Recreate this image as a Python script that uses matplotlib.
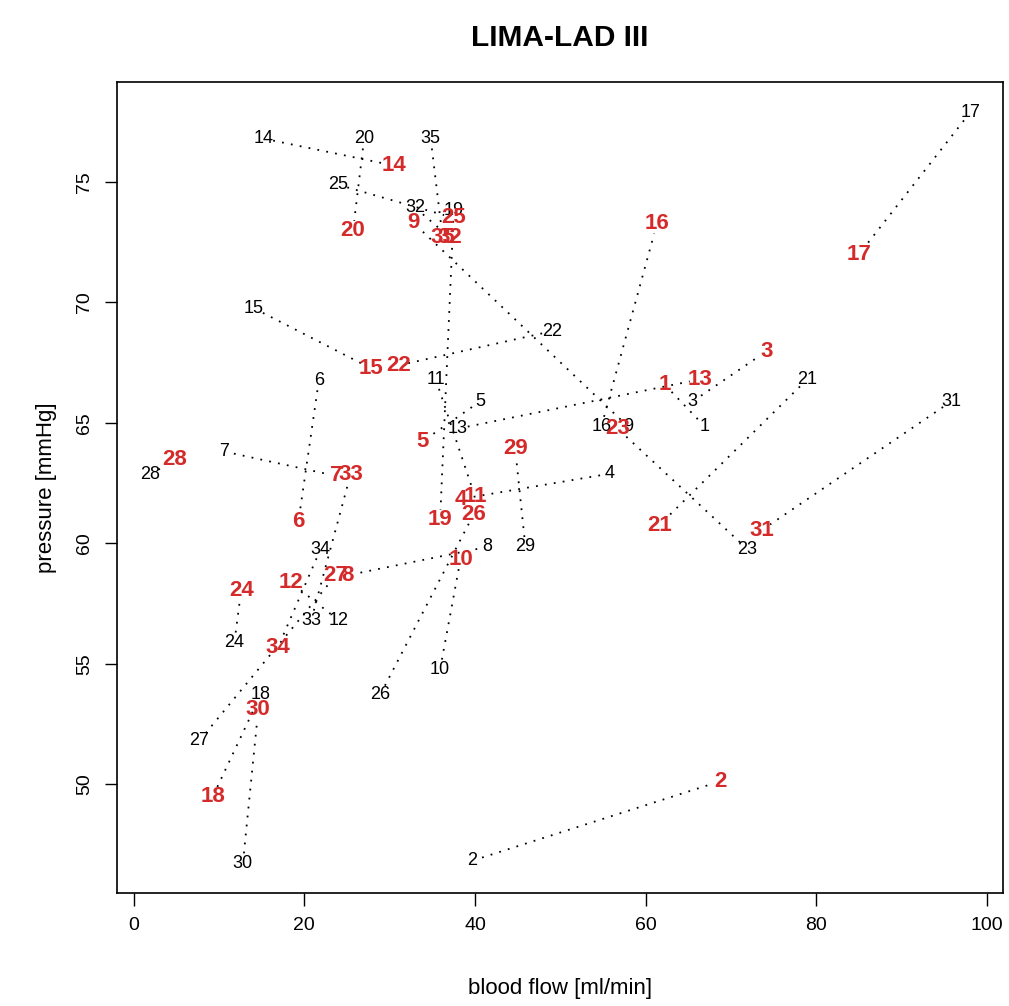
import numpy as np
import matplotlib
matplotlib.use("Agg")
import matplotlib.pyplot as plt

plt.rcParams["font.family"] = ["Liberation Sans", "DejaVu Sans"]

# DATA (patient numbers, before = black, after = red)
patients = list(range(1, 36))

flow_before = [66.9, 39.7, 65.5, 55.8, 40.6, 21.7, 10.6, 41.4, 57.9, 35.9,
               35.4, 24.0, 38.0, 15.2, 14.1, 54.8, 98.0, 14.9, 37.5, 27.0,
               78.9, 49.0, 71.9, 11.8, 23.9, 28.9, 7.7, 1.9, 45.9, 12.8,
               95.8, 33.0, 20.8, 21.9, 34.8]
pressure_before = [64.85, 46.84, 65.89, 62.89, 65.89, 66.76, 63.81, 59.85, 64.85, 54.77,
                   66.80, 56.81, 64.76, 76.79, 69.75, 64.85, 77.87, 53.73, 73.79, 76.79,
                   66.80, 68.80, 59.76, 55.89, 74.88, 53.73, 51.81, 62.84, 59.85, 46.73,
                   65.89, 73.92, 56.81, 59.76, 76.79]

flow_after = [62.2, 68.8, 74.1, 38.3, 33.8, 19.3, 23.7, 25.1, 32.8, 38.3,
              40.0, 18.4, 66.3, 30.5, 27.8, 61.3, 85.0, 9.3, 35.9, 25.7,
              61.6, 31.0, 56.7, 12.6, 37.5, 39.8, 23.7, 4.8, 44.7, 14.6,
              73.6, 37.1, 25.4, 16.9, 36.2]
pressure_after = [66.59, 50.14, 67.96, 61.84, 64.22, 60.89, 62.80, 58.68, 73.29, 59.35,
                  61.93, 58.39, 66.80, 75.67, 67.26, 73.25, 72.00, 49.52, 60.97, 72.96,
                  60.76, 67.38, 64.76, 58.06, 73.50, 61.18, 58.68, 63.47, 63.93, 53.10,
                  60.55, 72.67, 62.84, 55.68, 72.67]

x_ticks = [0, 20, 40, 60, 80, 100]
y_ticks = [50, 55, 60, 65, 70, 75]

# PLOT
fig = plt.figure(figsize=(10.09, 10.06), dpi=100)
ax = fig.add_axes([0.116, 0.112, 0.878, 0.806])

# R style 4% padding
all_x = flow_before + flow_after
all_y = pressure_before + pressure_after
xr = max(all_x) - min(all_x)
yr = max(all_y) - min(all_y)
ax.set_xlim(min(all_x) - 0.04 * xr, max(all_x) + 0.04 * xr)
ax.set_ylim(min(all_y) - 0.04 * yr, max(all_y) + 0.04 * yr)

# dotted connections, trimmed a little at both ends so they stop at the labels
trim = 10
for xb, yb, xa, ya in zip(flow_before, pressure_before, flow_after, pressure_after):
    p0 = ax.transData.transform((xb, yb))
    p1 = ax.transData.transform((xa, ya))
    d = p1 - p0
    n = np.hypot(*d)
    if n <= 2 * trim:
        continue
    u = d / n
    q0 = ax.transData.inverted().transform(p0 + u * trim)
    q1 = ax.transData.inverted().transform(p1 - u * trim)
    ax.plot([q0[0], q1[0]], [q0[1], q1[1]],
            color="black", linestyle=(0, (1, 4)), linewidth=1.3)

for p, xb, yb in zip(patients, flow_before, pressure_before):
    ax.text(xb, yb, str(p), ha="center", va="center",
            fontsize=13, color="black")

for p, xa, ya in zip(patients, flow_after, pressure_after):
    ax.text(xa, ya, str(p), ha="center", va="center",
            fontsize=16, fontweight="bold", color="#d42a2a")

# AXES
ax.set_xticks(x_ticks)
ax.set_yticks(y_ticks)
ax.set_yticklabels([str(v) for v in y_ticks], rotation=90, va="center")
ax.tick_params(direction="out", length=9, width=1, labelsize=14, pad=8)

for s in ax.spines.values():
    s.set_linewidth(1.2)

ax.set_xlabel("blood flow [ml/min]", fontsize=16, labelpad=32)
ax.set_ylabel("pressure [mmHg]", fontsize=16, labelpad=14)

fig.text(0.555, 0.962, "LIMA-LAD III", ha="center", va="center",
         fontsize=21.5, fontweight="bold")

# SAVE
plt.savefig("out.png", dpi=100)
